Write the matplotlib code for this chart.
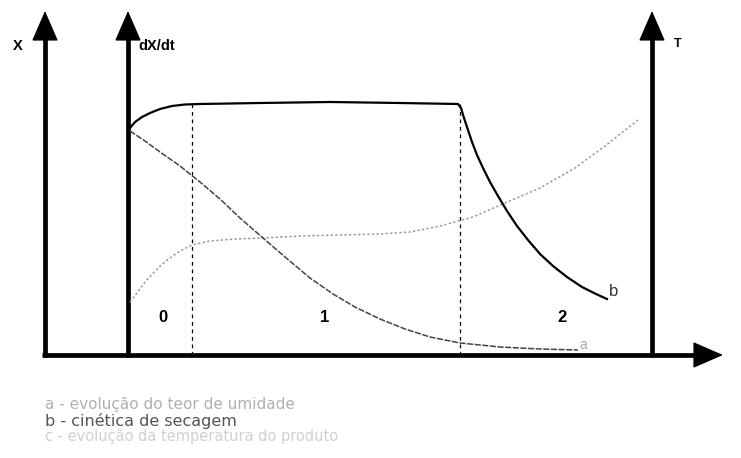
import matplotlib.pyplot as plt

# sketch drawn in pixel-like units (y grows downward)
# b - drying rate curve
b_x = [130, 135, 142, 150, 160, 172, 185, 200, 260, 330, 400, 458, 461, 464, 468, 472, 477, 483,
       490, 498, 507, 517, 528, 540, 553, 567, 582, 596, 607]
b_y = [128, 122, 117, 113, 109, 106, 104.5, 104, 103, 102, 103, 104, 108, 118, 130, 142, 155, 168,
       182, 196, 211, 226, 240, 254, 266, 277, 287, 294, 299]
# a - moisture content
a_x = [130, 145, 160, 180, 200, 220, 240, 263, 285, 310, 333, 355, 380, 405, 430, 460, 500, 540, 578]
a_y = [131, 141, 152, 166, 182, 199, 218, 238, 257, 278, 294, 307, 319, 329, 337, 343, 347, 349, 350]
# c - product temperature
c_x = [130, 137, 145, 155, 167, 180, 192, 210, 235, 263, 300, 340, 380, 410, 440, 473, 505, 540, 575, 605, 638]
c_y = [302, 293, 282, 271, 260, 251, 245, 241, 239, 238, 236, 235, 234, 232, 226, 217, 203, 188, 168, 146, 120]

period_x = [192, 460]
period_labels = ['0', '1', '2']
period_label_x = [163, 325, 562]

legend_lines = ['a - evolução do teor de umidade',
                'b - cinética de secagem',
                'c - evolução da temperatura do produto']

plt.rcParams['font.family'] = ['Liberation Sans', 'DejaVu Sans']

fig = plt.figure(figsize=(7.41, 4.58), dpi=100)
ax = fig.add_axes([0, 0, 1, 1])
ax.set_xlim(0, 741)
ax.set_ylim(458, 0)
ax.axis('off')

base_y = 355
head = dict(arrowstyle='-|>,head_length=1.15,head_width=0.5', lw=1,
            color='black', mutation_scale=17, shrinkA=0, shrinkB=0)
# vertical axes
for ax_x in [45, 128, 652]:
    ax.plot([ax_x, ax_x], [base_y + 2, 30], color='black', lw=3.4, solid_capstyle='butt')
    ax.annotate('', xy=(ax_x, 11), xytext=(ax_x, 40), arrowprops=head)
# horizontal time axis
ax.plot([42, 700], [base_y, base_y], color='black', lw=3.4, solid_capstyle='butt')
ax.annotate('', xy=(723, base_y), xytext=(690, base_y), arrowprops=head)

ax.text(18, 46, 'X', fontsize=10.5, fontweight='bold', ha='center', va='center')
ax.text(138, 46, 'dX/dt', fontsize=10.5, fontweight='bold', ha='left', va='center')
ax.text(678, 44, 'T', fontsize=9, fontweight='bold', ha='center', va='center')

# period boundaries
for px in period_x:
    ax.plot([px, px], [104, base_y], color='black', lw=0.9, ls=(0, (3, 3)))

ax.plot(c_x, c_y, color='#9a9a9a', lw=1.1, ls=(0, (1.5, 1.5)))
ax.plot(a_x, a_y, color='#444444', lw=1.1, ls=(0, (4, 1)))
ax.plot(b_x, b_y, color='black', lw=1.6)

for lab, lx in zip(period_labels, period_label_x):
    ax.text(lx, 318, lab, fontsize=12, fontweight='bold', ha='center', va='center')
ax.text(614, 291, 'b', fontsize=12, color='#333333', ha='center', va='center')
ax.text(583, 345, 'a', fontsize=10, color='#aaaaaa', ha='center', va='center')

legend_colors = ['#b0b0b0', '#555555', '#d0d0d0']
legend_sizes = [11, 11.5, 10.5]
for i, (line, col, fs) in enumerate(zip(legend_lines, legend_colors, legend_sizes)):
    ax.text(45, 405 + i * 16, line, fontsize=fs, color=col, ha='left', va='center',
            family='DejaVu Sans')

fig.savefig('out.png', dpi=100)
